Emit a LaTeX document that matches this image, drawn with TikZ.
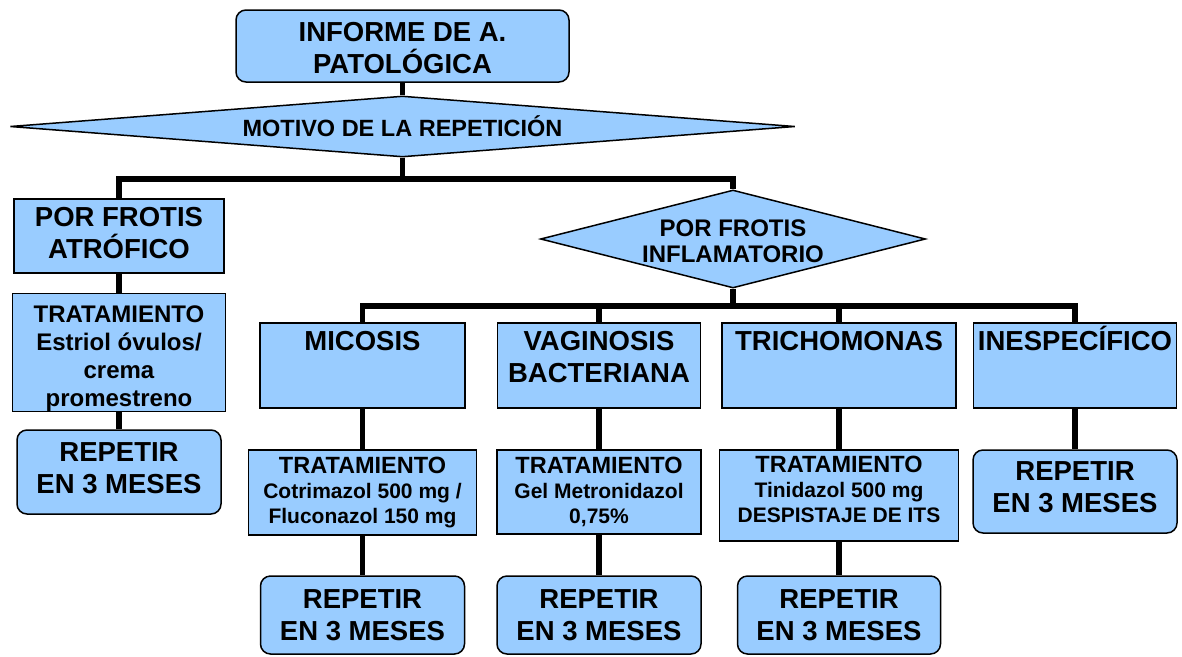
\documentclass[tikz,border=0pt]{standalone}
\usepackage{fontspec}
\setmainfont{Liberation Sans}
\usepackage{tikz}
\usetikzlibrary{shapes.geometric}
\definecolor{boxblue}{HTML}{99CCFF}
\newcommand{\biglabel}{\bfseries\fontsize{27.5}{32}\selectfont}
\newcommand{\catlabel}[2]{\parbox[c][85pt][t]{#1}{\centering\vspace*{3pt}\rule{0pt}{24pt}#2}}
\newcommand{\trathead}{{\fontsize{23.5}{27}\selectfont TRATAMIENTO}}
\newcommand{\lift}[1]{\rule[-#1]{0pt}{#1}}
\tikzset{
    box/.style={draw, line width=1.5pt, fill=boxblue, inner sep=0pt, align=center, font=\biglabel},
    roundbox/.style={box, rounded corners=10pt},
    treatbox/.style={box, font=\bfseries\fontsize{21}{25}\selectfont},
    decision/.style={draw, line width=1.5pt, fill=boxblue, diamond, inner sep=0pt, align=center},
    link/.style={line width=5.5pt, line join=miter}
}

\begin{document}
\begin{tikzpicture}[x=1pt, y=-1pt]
        \useasboundingbox (0,0) rectangle (1182,656);

        \node[roundbox, minimum width=333pt, minimum height=72pt] (informe) at (402.5,46) {\rule{0pt}{24pt}INFORME DE A.\\PATOLÓGICA};
        \node[decision, aspect=12.9, minimum width=785pt, minimum height=61pt, font=\bfseries\fontsize{23.5}{27}\selectfont] (motivo) at (402.5,126.5) {MOTIVO DE LA REPETICIÓN};

        \node[box, minimum width=210pt, minimum height=74pt] (atrofico) at (119,236) {POR FROTIS\\ATRÓFICO\lift{6pt}};
        \node[box, minimum width=213pt, minimum height=112pt, font=\bfseries\fontsize{24}{28}\selectfont] (tratatro) at (119,352.5) {\rule{0pt}{29pt}TRATAMIENTO\\Estriol óvulos/\\crema\\promestreno};
        \node[roundbox, minimum width=204pt, minimum height=84pt] (repatro) at (119,472) {REPETIR\\EN 3 MESES\lift{8pt}};

        \node[decision, aspect=3.93, minimum width=385pt, minimum height=98pt, font=\bfseries\fontsize{24}{26}\selectfont] (inflam) at (733,239) {\rule{0pt}{22pt}POR FROTIS\\INFLAMATORIO};

        \node[box] (micosis) at (362.5,365.5) {\catlabel{205pt}{MICOSIS}};
        \node[box] (vaginosis) at (599,365.5) {\catlabel{203pt}{VAGINOSIS\\BACTERIANA}};
        \node[box] (trichom) at (839,365.5) {\catlabel{234pt}{TRICHOMONAS}};
        \node[box] (inespec) at (1075,365.5) {\catlabel{203pt}{INESPECÍFICO}};

        \node[treatbox, minimum width=228pt, minimum height=85pt] (tratmic) at (362.5,492.5) {\trathead\\Cotrimazol 500 mg /\\Fluconazol 150 mg};
        \node[treatbox, minimum width=204pt, minimum height=84pt] (tratvag) at (599,492) {\trathead\\Gel Metronidazol\\0,75\%};
        \node[treatbox, minimum width=239pt, minimum height=91pt] (trattri) at (839,495.5) {\trathead\\Tinidazol 500 mg\\DESPISTAJE DE ITS\lift{13pt}};
        \node[roundbox, minimum width=204pt, minimum height=83pt] (repines) at (1075,491.5) {REPETIR\\EN 3 MESES\lift{8pt}};

        \node[roundbox, minimum width=204pt, minimum height=78pt] (repmic) at (362.5,615) {REPETIR\\EN 3 MESES};
        \node[roundbox, minimum width=204pt, minimum height=78pt] (repvag) at (599,615) {REPETIR\\EN 3 MESES};
        \node[roundbox, minimum width=203pt, minimum height=78pt] (reptri) at (839,615) {REPETIR\\EN 3 MESES};

        \draw[link] (informe) -- (motivo);
        \draw[link] (motivo.south) -- ++(0,21) -| (atrofico.north);
        \draw[link] (motivo.south) -- ++(0,21) -| (inflam.north);
        \foreach \n in {micosis, vaginosis, trichom, inespec}
            \draw[link] (inflam.south) -- ++(0,17) -| (\n.north);

        \draw[link] (atrofico) -- (tratatro);
        \draw[link] (tratatro) -- (repatro);
        \draw[link] (micosis) -- (tratmic);
        \draw[link] (tratmic) -- (repmic);
        \draw[link] (vaginosis) -- (tratvag);
        \draw[link] (tratvag) -- (repvag);
        \draw[link] (trichom) -- (trattri);
        \draw[link] (trattri) -- (reptri);
        \draw[link] (inespec) -- (repines);

    \end{tikzpicture}
\end{document}
